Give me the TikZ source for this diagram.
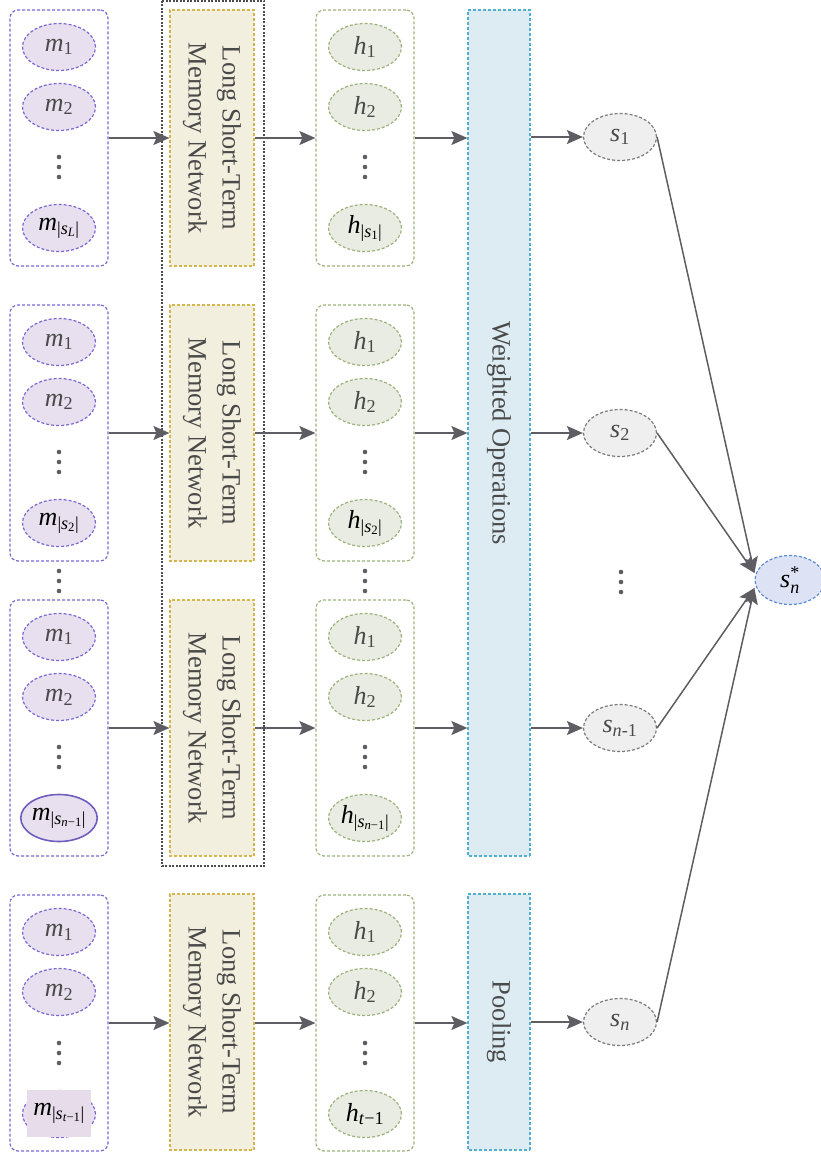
\documentclass[tikz,border=0pt]{standalone}
\usepackage{fontspec}
\setmainfont{Liberation Serif}[ItalicFont={Liberation Serif Italic}]
\usetikzlibrary{arrows.meta,shapes.geometric,calc}
\definecolor{mbord}{HTML}{7A67D4}
\definecolor{mfill}{HTML}{E8E0EE}
\definecolor{gbord}{HTML}{9BB27A}
\definecolor{gfill}{HTML}{E9ECE2}
\definecolor{ybord}{HTML}{D5B64E}
\definecolor{yfill}{HTML}{F3EFDF}
\definecolor{bbord}{HTML}{50AED0}
\definecolor{bfill}{HTML}{DDEBF2}
\definecolor{sbord}{HTML}{7A7A7A}
\definecolor{sfill}{HTML}{EFEFEF}
\definecolor{stbord}{HTML}{5B8AD8}
\definecolor{stfill}{HTML}{DDE3F5}
\definecolor{arrc}{HTML}{5E5D64}
\definecolor{txt}{HTML}{4A4A4A}
\definecolor{rectc}{HTML}{E6DCEA}
\newcommand{\lblfont}{\fontsize{26}{30}\selectfont}
\newcommand{\boxfont}{\fontsize{26.5}{34}\selectfont}
\newcommand{\vdts}[2]{\fill[arrc] (#1,#2-10) circle (2.3pt) (#1,#2) circle (2.3pt) (#1,#2+10) circle (2.3pt);}
\newcommand{\sbar}[2]{\textsubscript{|\textit{#1}\textsubscript{#2}|}}
\tikzset{
  dsh/.style={dash pattern=on 3pt off 2pt},
  ell/.style={ellipse, dsh, line width=1.2pt, minimum width=73pt, minimum height=47pt, inner sep=0pt, text=txt, font=\lblfont},
  mell/.style={ell, draw=mbord, fill=mfill},
  hell/.style={ell, draw=gbord, fill=gfill},
  sell/.style={ell, draw=sbord, fill=sfill},
  stell/.style={ell, draw=stbord, fill=stfill, text=black},
  colbox/.style={rectangle, rounded corners=8pt, dsh, line width=1.2pt, minimum width=98pt, minimum height=256pt, inner sep=0pt},
  mbox/.style={colbox, draw=mbord},
  hbox/.style={colbox, draw=gbord},
  lstm/.style={rectangle, dsh, line width=1.2pt, draw=ybord, fill=yfill, minimum width=256pt, minimum height=84pt, rotate=-90, align=center, font=\boxfont, text=txt, inner sep=0pt},
  wbox/.style={rectangle, dsh, line width=1.2pt, draw=bbord, fill=bfill, minimum height=62pt, rotate=-90, font=\boxfont, text=txt, inner sep=0pt},
  arr/.style={draw=arrc, line width=1.5pt, -{Stealth[length=16pt,width=14pt,inset=3pt]}}
}
\begin{document}
\begin{tikzpicture}[x=1pt,y=-1pt]
\useasboundingbox (0,0) rectangle (821,1156);
% outer dashed group
\draw[black!70, line width=1.2pt, dash pattern=on 2pt off 1.5pt] (162,1) rectangle (264,866);

% ---- input columns
\node[mbox] (mb1) at (59,138) {};
\node[mbox] (mb2) at (59,433) {};
\node[mbox] (mb3) at (59,728) {};
\node[mbox] (mb4) at (59,1023) {};

\node[mell] (m11) at (59,47) {\textit{m}\textsubscript{1}};
\node[mell] (m12) at (59,107) {\textit{m}\textsubscript{2}};
\node[mell, text=black] (m13) at (59,228) {\textit{m}\sbar{s}{\textit{L}}};
\vdts{59}{167}

\node[mell] (m21) at (59,342) {\textit{m}\textsubscript{1}};
\node[mell] (m22) at (59,402) {\textit{m}\textsubscript{2}};
\node[mell, text=black] (m23) at (59,523) {\textit{m}\sbar{s}{2}};
\vdts{59}{462}

\node[mell] (m31) at (59,637) {\textit{m}\textsubscript{1}};
\node[mell] (m32) at (59,697) {\textit{m}\textsubscript{2}};
\node[mell, solid, draw=mbord!90!black, line width=1.6pt, text=black] (m33) at (59,818) {\textit{m}\sbar{s}{\textit{n}\char"2212 1}};
\vdts{59}{757}

\node[mell] (m41) at (59,932) {\textit{m}\textsubscript{1}};
\node[mell] (m42) at (59,992) {\textit{m}\textsubscript{2}};
\node[mell] (m43e) at (59,1114) {};
\node[rectangle, fill=rectc, minimum width=64pt, minimum height=47pt, inner sep=0pt, font=\lblfont, text=black] (m43) at (59,1113) {\textit{m}\sbar{s}{\textit{t}\char"2212 1}};
\vdts{59}{1053}

\vdts{59}{581}

% ---- LSTM boxes
\node[lstm] (l1) at (212,138) {Long Short-Term\\Memory Network};
\node[lstm] (l2) at (212,433) {Long Short-Term\\Memory Network};
\node[lstm] (l3) at (212,728) {Long Short-Term\\Memory Network};
\node[lstm] (l4) at (212,1022) {Long Short-Term\\Memory Network};

% ---- hidden columns
\node[hbox] (hb1) at (365,138) {};
\node[hbox] (hb2) at (365,433) {};
\node[hbox] (hb3) at (365,728) {};
\node[hbox] (hb4) at (365,1023) {};

\node[hell] (h11) at (365,47) {\textit{h}\textsubscript{1}};
\node[hell] (h12) at (365,107) {\textit{h}\textsubscript{2}};
\node[hell, text=black] (h13) at (365,228) {\textit{h}\sbar{s}{1}};
\vdts{365}{167}

\node[hell] (h21) at (365,342) {\textit{h}\textsubscript{1}};
\node[hell] (h22) at (365,402) {\textit{h}\textsubscript{2}};
\node[hell, text=black] (h23) at (365,523) {\textit{h}\sbar{s}{2}};
\vdts{365}{462}

\node[hell] (h31) at (365,637) {\textit{h}\textsubscript{1}};
\node[hell] (h32) at (365,697) {\textit{h}\textsubscript{2}};
\node[hell, text=black] (h33) at (365,818) {\textit{h}\sbar{s}{\textit{n}\char"2212 1}};
\vdts{365}{757}

\node[hell] (h41) at (365,932) {\textit{h}\textsubscript{1}};
\node[hell] (h42) at (365,992) {\textit{h}\textsubscript{2}};
\node[hell, text=black] (h43) at (365,1114) {\textit{h}\textsubscript{\textit{t}\char"2212 1}};
\vdts{365}{1053}

\vdts{365}{581}

% ---- weighted / pooling
\node[wbox, minimum width=846pt] (w) at (499,433) {Weighted Operations};
\node[wbox, minimum width=256pt] (p) at (499,1022) {Pooling};

% ---- s nodes
\node[sell] (s1) at (620,137) {\textit{s}\textsubscript{1}};
\node[sell] (s2) at (620,433) {\textit{s}\textsubscript{2}};
\node[sell] (s3) at (620,728) {\textit{s}\textsubscript{\textit{n}-1}};
\node[sell] (s4) at (620,1022) {\textit{s}\textsubscript{\textit{n}}};
\vdts{621}{582}
\node[stell, minimum width=70pt, minimum height=49pt] (st) at (790,580) {\textit{s}$^{\mbox{\fontsize{18}{18}\selectfont *}}_{\mbox{\fontsize{18}{18}\selectfont\itshape n}}$};

% ---- arrows
\foreach \i in {1,2,3,4} {
  \draw[arr] (mb\i.east) -- (mb\i.east -| l\i.south);
  \draw[arr] (l\i.north |- hb\i.west) -- (hb\i.west);
}
\draw[arr] (hb1.east) -- (hb1.east -| w.south);
\draw[arr] (hb2.east) -- (hb2.east -| w.south);
\draw[arr] (hb3.east) -- (hb3.east -| w.south);
\draw[arr] (hb4.east) -- (hb4.east -| p.south);
\draw[arr] (w.north |- s1.west) -- (s1.west);
\draw[arr] (w.north |- s2.west) -- (s2.west);
\draw[arr] (w.north |- s3.west) -- (s3.west);
\draw[arr] (p.north |- s4.west) -- (s4.west);

\draw[arr] (s1.east) -- ([yshift=7pt]st.west);
\draw[arr] (s2.east) -- ([yshift=7pt]st.west);
\draw[arr] (s3.east) -- ([yshift=-8pt]st.west);
\draw[arr] (s4.east) -- ([yshift=-8pt]st.west);
\end{tikzpicture}
\end{document}
